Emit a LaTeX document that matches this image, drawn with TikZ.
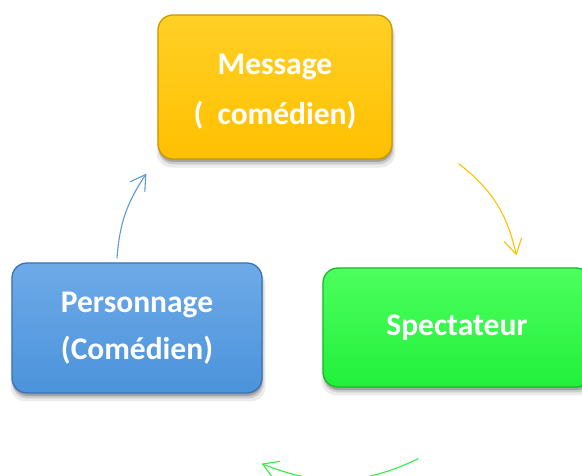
\documentclass[tikz,border=0pt]{standalone}
\usepackage{fontspec}
\setmainfont{Carlito}
\usetikzlibrary{arrows.meta,shadows,calc,bending}
\definecolor{goldtop}{HTML}{FFD026}
\definecolor{goldbot}{HTML}{FFC000}
\definecolor{goldline}{HTML}{C99A00}
\definecolor{bluetop}{HTML}{6EAAE8}
\definecolor{bluebot}{HTML}{4B93DB}
\definecolor{blueline}{HTML}{3A72B4}
\definecolor{greentop}{HTML}{4CFF5E}
\definecolor{greenbot}{HTML}{22F03B}
\definecolor{greenline}{HTML}{1CB82C}
\definecolor{arrblue}{HTML}{5B9BD5}
\definecolor{arrgold}{HTML}{FFC000}
\definecolor{arrgreen}{HTML}{33EE44}
\begin{document}
\begin{tikzpicture}[x=1pt,y=1pt,
  boxbase/.style={draw, line width=1.3pt, rounded corners=15pt, align=center,
    text=white, inner sep=0pt,
    general shadow={fill=black, opacity=0.08, shadow xshift=1pt, shadow yshift=-7pt, shadow scale=1.02},
    general shadow={fill=black, opacity=0.13, shadow xshift=1pt, shadow yshift=-5pt, shadow scale=1.005},
    general shadow={fill=black, opacity=0.2, shadow xshift=0.5pt, shadow yshift=-3pt}},
  msgbox/.style={boxbase, draw=goldline, top color=goldtop, bottom color=goldbot,
    minimum width=234pt, minimum height=144pt,
    font=\fontsize{31.5}{50}\selectfont\bfseries},
  persbox/.style={boxbase, draw=blueline, top color=bluetop, bottom color=bluebot,
    minimum width=250pt, minimum height=130pt,
    font=\fontsize{31.5}{47}\selectfont\bfseries},
  specbox/.style={boxbase, draw=greenline, top color=greentop, bottom color=greenbot,
    minimum width=268pt, minimum height=119pt,
    font=\fontsize{31.5}{47}\selectfont\bfseries},
  conn/.style={line width=1.1pt, -{Straight Barb[length=15pt,width=18pt,line width=1.1pt]}}
]
\fill[white] (0,0) rectangle (582,475);
\useasboundingbox (0,0) rectangle (582,475);

\node[msgbox] (M) at (275,388) {\rule{0pt}{30pt}Message\\(\ \ comédien)};
\node[persbox] (P) at (137,147) {Personnage\\(Comédien)};
\node[specbox] (S) at (457,147.5) {Spectateur};

\coordinate (b1) at ($(P.north)+(-20,4)$);
\coordinate (b2) at ($(M.south west)+(-11,-14)$);
\coordinate (y1) at ($(M.south east)+(66,-4)$);
\coordinate (y2) at ($(S.north west)+(194,12)$);
\coordinate (g1) at ($(S.south west)+(96,-71)$);
\coordinate (g2) at ($(P.south east)+(-1,-70)$);

\draw[conn, arrblue] (b1) to[bend left=15] (b2);
\draw[conn, arrgold] (y1) to[bend left=20] (y2);
\draw[conn, arrgreen] (g1) to[bend left=24] (g2);
\end{tikzpicture}
\end{document}
